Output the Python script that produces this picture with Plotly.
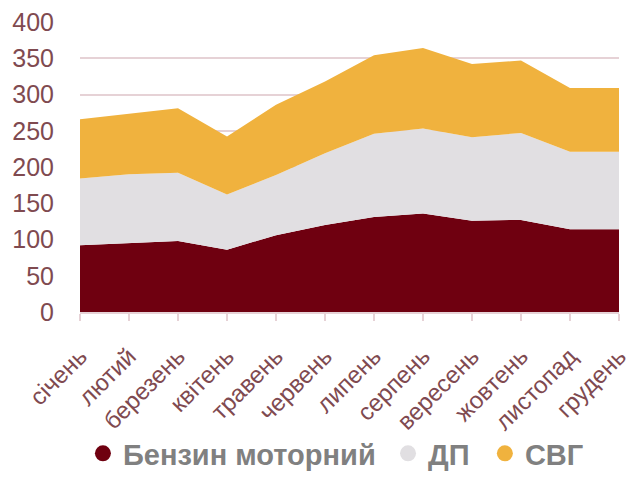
import plotly.graph_objects as go

months = ["січень", "лютий", "березень", "квітень", "травень", "червень",
          "липень", "серпень", "вересень", "жовтень", "листопад", "грудень"]
benzin = [92, 95, 98, 86, 106, 120, 131, 136, 126, 127, 114, 114]
dp = [92, 95, 94, 76, 83, 99, 115, 117, 115, 120, 107, 107]
svg = [82, 84, 89, 80, 97, 99, 108, 111, 101, 100, 88, 88]

names = ["Бензин моторний", "ДП", "СВГ"]
colors = ["#6f0010", "#e1dfe2", "#f0b23e"]
series = [benzin, dp, svg]
legend_ids = ["legend", "legend2", "legend3"]
legend_x = [0.131, 0.613, 0.766]

TXT = "#7f4a50"
FONT = "Liberation Sans, Arial, sans-serif"

fig = go.Figure()
for name, col, vals in zip(names, colors, series):
    fig.add_trace(go.Scatter(
        x=months, y=vals, name=name, mode="lines", stackgroup="one",
        line=dict(width=0, color=col), fillcolor=col, showlegend=False,
        hoverinfo="x+y+name"))
for name, col, lid in zip(names, colors, legend_ids):
    fig.add_trace(go.Scatter(
        x=[None], y=[None], name=name, mode="markers", legend=lid,
        marker=dict(symbol="circle", size=22, color=col)))

leg_common = dict(orientation="h", xref="container", yref="container",
                  xanchor="left", y=0.0, yanchor="bottom",
                  font=dict(size=29, color="#808080", family=FONT, weight="bold"),
                  itemwidth=30, bgcolor="rgba(0,0,0,0)")

fig.update_layout(
    width=633, height=479,
    margin=dict(l=80, r=14, t=22, b=167, autoexpand=False),
    paper_bgcolor="white", plot_bgcolor="white",
    font=dict(family=FONT, color=TXT, size=24),
    legend=dict(x=legend_x[0], **leg_common),
    legend2=dict(x=legend_x[1], **leg_common),
    legend3=dict(x=legend_x[2], **leg_common),
    showlegend=True,
)
fig.update_xaxes(
    range=[0, 11], tickangle=-45, showgrid=False, automargin=False,
    showline=True, linecolor="#e6d2d6", linewidth=1.5,
    ticks="outside", ticklen=7, tickcolor="#e6d2d6", tickwidth=1.5,
    tickfont=dict(size=24, color=TXT, family=FONT),
    ticklabelstandoff=12,
)
fig.update_yaxes(
    range=[0, 400], dtick=50, showgrid=True, gridcolor="#e6d2d6", gridwidth=1.5,
    zeroline=False, showline=False, automargin=False,
    tickfont=dict(size=25, color=TXT, family=FONT),
    ticklabelstandoff=25,
)
fig.write_html("out.html")
